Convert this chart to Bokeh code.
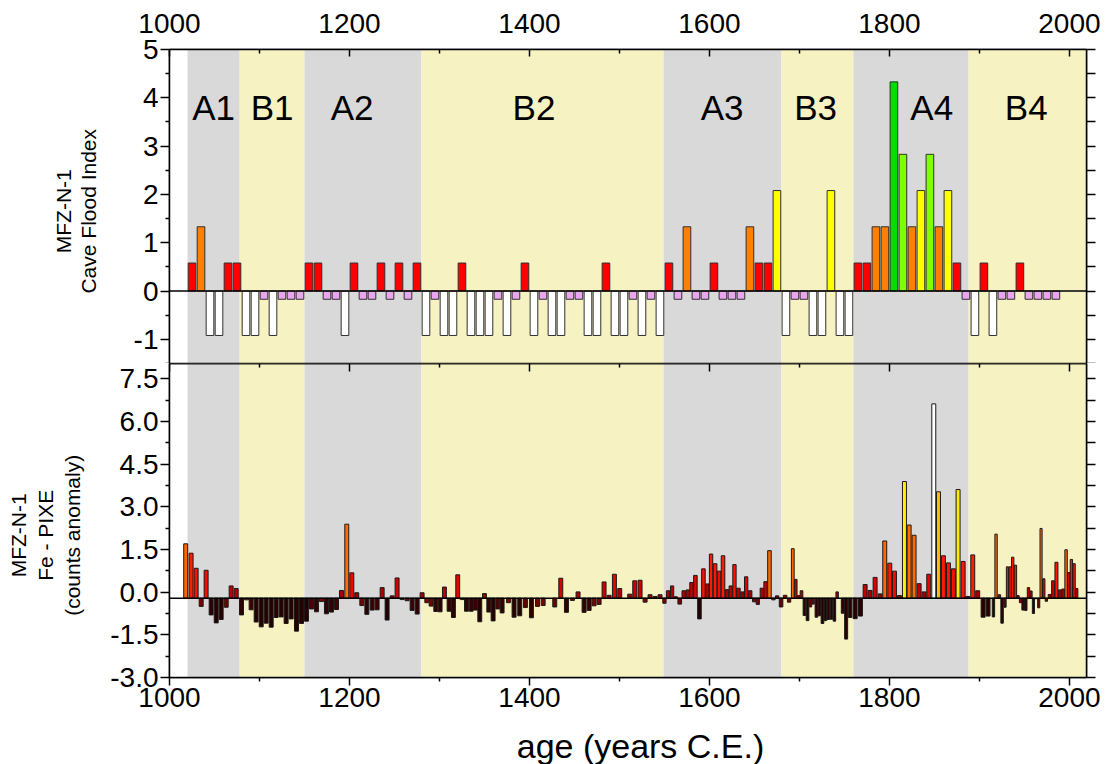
import numpy as np
from bokeh.plotting import figure
from bokeh.layouts import column, row
from bokeh.models import (Range1d, LinearAxis, FixedTicker, Span,
                          ColumnDataSource, PrintfTickFormatter)
from bokeh.core.properties import value
from bokeh.embed import file_html
from bokeh.resources import INLINE

# ---------------------------------------------------------------- data
phase_names = ["A1", "B1", "A2", "B2", "A3", "B3", "A4", "B4"]
phase_start = [1020, 1078, 1150, 1280, 1549, 1680, 1760, 1888]
phase_end = [1078, 1150, 1280, 1549, 1680, 1760, 1888, 2019]
phase_label_x = [1049, 1114, 1203, 1405, 1614, 1718, 1847, 1952]

x_major_ticks = [1000, 1200, 1400, 1600, 1800, 2000]
x_minor_ticks = [1100, 1300, 1500, 1700, 1900]
flood_ticks = [-1, 0, 1, 2, 3, 4, 5]
flood_minor = [-1.5, -0.5, 0.5, 1.5, 2.5, 3.5, 4.5]
fe_ticks = [-3.0, -1.5, 0.0, 1.5, 3.0, 4.5, 6.0, 7.5]
fe_minor = [-2.25, -0.75, 0.75, 2.25, 3.75, 5.25, 6.75]

# Cave Flood Index, decadal bins (centre years 1025 ... 1985)
flood_years = list(range(1025, 1986, 10))
flood_index = [
    0.58, 1.33, -0.92, -0.92, 0.58, 0.58, -0.92, -0.92, -0.17, -0.92,
    -0.17, -0.17, -0.17, 0.58, 0.58, -0.17, -0.17, -0.92, 0.58, -0.17,
    -0.17, 0.58, -0.17, 0.58, -0.17, 0.58, -0.92, -0.17, -0.92, -0.92,
    0.58, -0.92, -0.92, -0.92, -0.17, -0.92, -0.17, 0.58, -0.92, -0.17,
    -0.92, -0.92, -0.17, -0.17, -0.92, -0.92, 0.58, -0.92, -0.92, -0.17,
    -0.92, -0.17, -0.92, 0.58, -0.17, 1.33, -0.17, -0.17, 0.58, -0.17,
    -0.17, -0.17, 1.33, 0.58, 0.58, 2.08, -0.92, -0.17, -0.17, -0.92,
    -0.92, 2.08, -0.92, -0.92, 0.58, 0.58, 1.33, 1.33, 4.33, 2.83,
    1.33, 2.08, 2.83, 1.33, 2.08, 0.58, -0.17, -0.92, 0.58, -0.92,
    -0.17, -0.17, 0.58, -0.17, -0.17, -0.17, -0.17,
]

# Fe - PIXE counts anomaly
fe_year = [
    1018, 1024, 1029.6, 1035.2, 1040.7, 1046.3, 1051.9, 1057.4, 1063, 1068.5,
    1074.1, 1080, 1085.6, 1090.7, 1096.3, 1101.9, 1107.4, 1113, 1118.5, 1124.1,
    1129.6, 1135.2, 1141.1, 1146.7, 1152.2, 1157.8, 1163.3, 1168.9, 1174.4, 1180,
    1185.6, 1191.1, 1197, 1202.6, 1208.1, 1213.7,
    1219.3, 1225.2, 1230.7, 1236.3, 1241.8, 1247.4, 1252.9, 1258.5, 1264, 1269.6,
    1275.2, 1280.7, 1285.9, 1290.7, 1295.9, 1300.7, 1305.5, 1310.7, 1315.5, 1320.3,
    1325.2, 1330, 1335.2, 1340, 1344.8, 1350, 1354.8, 1359.6, 1364.8, 1369.6,
    1376.6, 1382.9, 1389.2, 1395.5, 1402.2, 1408.9, 1415.2,
    1428.1, 1434.8, 1441.1, 1447.7, 1454, 1460.7, 1466.3, 1471.8, 1477.4, 1482.9,
    1488.5, 1494.4, 1500.3, 1511.4, 1517, 1522.9, 1528.5, 1534, 1539.6, 1545.1,
    1550, 1554, 1558.5, 1562.5, 1567, 1571.5, 1575.9, 1580, 1584.4, 1588.9,
    1593.3, 1597.7, 1601.8, 1606.3, 1610.7, 1615.1, 1619.6,
    1623.7, 1627.8, 1632.2, 1636.7, 1640.8, 1645.2, 1649.7, 1653.7, 1658.2, 1662.3,
    1666.7, 1671.1, 1675.2, 1679.6, 1684.1, 1688.5, 1692.6, 1696, 1699, 1702.3,
    1705.6, 1709, 1712.3, 1715.2, 1718.9, 1722.2, 1725.6, 1728.9, 1732.2, 1735.6,
    1738.9, 1741.9, 1748.2, 1751.9, 1756.3, 1761.9, 1767.8, 1773, 1778.5, 1784.1,
    1789.7, 1794.8, 1800.4, 1805.6, 1811.1, 1816.7, 1821.9,
    1827.4, 1833, 1838.5, 1843.7, 1849.3, 1854.5, 1860, 1865.6, 1871.1, 1876.3,
    1881.9, 1887, 1892.6, 1898.1, 1904.1, 1909.6, 1915.6, 1918.5, 1922.2, 1925.2,
    1928.5, 1931.1, 1934.1, 1937, 1940, 1943, 1945.6, 1948.5, 1951.5, 1954.5,
    1957.4, 1960, 1963, 1965.9, 1968.5, 1971.5, 1974.4, 1978.1, 1981.9, 1985.6,
    1989.3, 1993, 1996.3, 1999.3, 2002.2, 2005.2, 2008.1,
]
fe_anomaly = [
    1.70, 1.37, 0.84, -0.50, 0.77, -0.80, -1.08, -0.96, -0.53, 0.22,
    0.13, -0.80, -0.27, -0.62, -1.05, -1.22, -1.09, -1.23, -0.89, -0.87,
    -1.10, -0.94, -1.37, -1.10, -1.02, -0.59, -0.69, -0.33, -0.76, -0.70,
    -0.61, 0.06, 2.39, 0.68, -0.02, -0.47,
    -0.78, -0.63, -0.62, 0.16, -0.98, -0.13, 0.50, -0.26, -0.30, -0.64,
    -0.77, -0.02, -0.37, -0.49, -0.68, -0.69, 0.18, -0.67, -0.89, 0.61,
    -0.26, -0.67, -0.67, -0.63, -1.04, -0.05, -0.70, -1.01, -0.59, -0.73,
    -0.37, -0.88, -0.83, -0.54, -0.90, -0.50, -0.47,
    -0.52, 0.49, -0.71, -0.29, 0.01, -0.71, -0.64, -0.48, -0.43, 0.36,
    -0.11, 0.63, 0.13, -0.07, 0.40, 0.42, -0.35, -0.09, -0.15, -0.09,
    -0.39, 0.05, 0.22, -0.16, -0.42, 0.05, 0.08, 0.34, 0.59, -0.94,
    0.82, 0.29, 1.34, 1.00, 0.74, 1.28, 0.09,
    0.22, 0.97, 0.14, 0.01, 0.54, 0.05, -0.34, -0.43, 0.14, 0.37,
    1.46, -0.27, -0.13, -0.52, -0.11, -0.35, 1.53, 0.45, -0.12, 0.05,
    -0.82, -1.00, -0.52, -0.42, -0.88, -0.83, -1.10, -1.00, -0.96, -0.95,
    -1.02, 0.01, -0.74, -1.65, -0.89, -0.93, -0.84, 0.27, 0.06, 0.52,
    -0.06, 1.80, 1.02, 0.74, -0.12, 3.89, 2.36,
    2.00, 0.30, 0.01, 0.63, 6.62, 3.53, 1.28, 1.03, 0.82, 3.61,
    1.08, -0.15, 1.31, 0.05, -0.88, -0.84, -0.87, 2.04, -0.09, -1.09,
    -0.53, 0.89, 0.89, 1.23, 0.95, -0.12, -0.37, -0.63, -0.64, 0.16,
    0.04, -0.75, -0.23, -0.55, 2.24, 0.47, -0.32, -0.08, 0.40, 1.05,
    0.08, 0.11, 1.49, 0.69, 1.15, 1.00, 0.13,
]
fe_reference = -0.21   # level the anomaly bars hang from

# ---------------------------------------------------------------- styling
FONT = "Liberation Sans"
TICK_SIZE = "28px"
GREY = "#d9d9d9"
YELLOW = "#f6f2c2"
PAGE_W, PAGE_H = 1107, 764
FRAME_X = 169          # left edge of both plot frames
TITLE_W = 102          # width of the strip carrying the rotated axis titles
MAIN_W = PAGE_W - TITLE_W
BORDER_L = FRAME_X - TITLE_W
BORDER_R = 21
TOP_H, BOT_H = 363, 360
XLAB_H = PAGE_H - TOP_H - BOT_H
X_RANGE = (1000, 2019)
FLOOD_RANGE = (-1.5, 5)
FE_RANGE = (-3, 8.04)


def flood_colour(v):
    if v < -0.5:
        return "#ffffff"
    if v < 0:
        return "#e9a6ef"
    if v < 1:
        return "#ff0000"
    if v < 1.7:
        return "#ff8000"
    if v < 2.5:
        return "#ffff00"
    if v < 3.5:
        return "#80ff00"
    return "#00dd00"


# hot-like ramp for the Fe anomalies
_cv = [-1.0, -0.65, -0.5, -0.2, 0.0, 0.5, 0.9, 1.40, 1.42, 2.5, 3.5, 3.58, 4.0, 5.0, 6.5]
_cr = [38, 52, 120, 145, 160, 215, 255, 255, 255, 255, 255, 255, 255, 255, 255]
_cg = [0, 0, 0, 0, 0, 0, 20, 30, 100, 110, 165, 235, 245, 250, 255]
_cb = [0, 0, 0, 0, 0, 0, 0, 0, 0, 0, 0, 0, 0, 120, 255]


def fe_colour(v):
    r = int(np.interp(v, _cv, _cr))
    g = int(np.interp(v, _cv, _cg))
    b = int(np.interp(v, _cv, _cb))
    return "#%02x%02x%02x" % (r, g, b)


def style_axis(ax, tick_in=0, tick_out=0, minor_in=0, minor_out=0):
    ax.axis_line_width = 1.5
    ax.major_tick_line_width = 1.5
    ax.minor_tick_line_width = 1.5
    ax.major_tick_in = tick_in
    ax.major_tick_out = tick_out
    ax.minor_tick_in = minor_in
    ax.minor_tick_out = minor_out
    ax.major_label_text_font = FONT
    ax.major_label_text_font_size = TICK_SIZE
    ax.major_label_text_color = "black"


def tick_only_axis(positions, tick_in, tick_out, **kw):
    # an unlabelled axis: every tick is drawn as a minor tick
    ax = LinearAxis(ticker=FixedTicker(ticks=[], minor_ticks=positions), **kw)
    style_axis(ax, minor_in=tick_in, minor_out=tick_out)
    return ax


def add_background(p, lo, hi):
    # white plot area first, then the alternating climate phases on top
    p.quad(left=X_RANGE[0], right=X_RANGE[1], bottom=lo, top=hi,
           fill_color="white", line_color=None)
    src = ColumnDataSource(dict(
        left=phase_start, right=phase_end,
        bottom=[lo] * len(phase_start), top=[hi] * len(phase_start),
        color=[GREY if n.startswith("A") else YELLOW for n in phase_names],
    ))
    p.quad(left="left", right="right", bottom="bottom", top="top",
           fill_color="color", line_color=None, source=src)


def text_strip(width, height, lines, xs, y_from_top, angle, size):
    s = figure(width=width, height=height, x_range=Range1d(0, width),
               y_range=Range1d(0, height), output_backend="svg",
               toolbar_location=None, x_axis_location=None,
               y_axis_location=None, min_border=0, outline_line_color=None)
    s.grid.visible = False
    src = ColumnDataSource(dict(x=xs, y=[height - y_from_top] * len(xs), text=lines))
    s.text(x="x", y="y", text="text", source=src, angle=angle,
           text_align="center", text_baseline="middle",
           text_font=value(FONT), text_font_size=size, text_color="black")
    return s


def panel(height, y_range, border_top, border_bottom):
    p = figure(width=MAIN_W, height=height, x_range=Range1d(*X_RANGE),
               y_range=Range1d(*y_range), output_backend="svg",
               toolbar_location=None, x_axis_location=None,
               y_axis_location=None, min_border_left=BORDER_L,
               min_border_right=BORDER_R, min_border_top=border_top,
               min_border_bottom=border_bottom,
               outline_line_color="black", outline_line_width=1.5)
    p.grid.visible = False
    return p


# ---------------------------------------------------------------- top panel
p1 = panel(TOP_H, FLOOD_RANGE, 49, 0)
add_background(p1, FLOOD_RANGE[0] - 1, FLOOD_RANGE[1] + 1)

src1 = ColumnDataSource(dict(x=flood_years, top=flood_index,
                             color=[flood_colour(v) for v in flood_index]))
p1.vbar(x="x", top="top", bottom=0, width=8.5, fill_color="color",
        line_color="#303030", line_width=1, source=src1)
p1.add_layout(Span(location=0, dimension="width", line_color="black",
                   line_width=1.5))

lab_src = ColumnDataSource(dict(x=phase_label_x, y=[3.8] * len(phase_names),
                                text=phase_names))
p1.text(x="x", y="y", text="text", source=lab_src, text_font=value(FONT),
        text_font_size="35px", text_align="center",
        text_baseline="alphabetic", text_color="black")

top_ax = LinearAxis(ticker=FixedTicker(ticks=x_major_ticks, minor_ticks=x_minor_ticks))
style_axis(top_ax, tick_in=7, minor_in=4)
top_ax.major_label_standoff = 17
p1.add_layout(top_ax, "above")

l1 = LinearAxis(ticker=FixedTicker(ticks=flood_ticks, minor_ticks=flood_minor),
                formatter=PrintfTickFormatter(format="%d"))
style_axis(l1, tick_out=9, minor_out=4)
l1.major_label_standoff = 2
p1.add_layout(l1, "left")

p1.add_layout(tick_only_axis(sorted(flood_ticks + flood_minor), 0, 9), "right")
# plain line along the lower edge of the top panel
p1.add_layout(tick_only_axis([], 0, 0, fixed_location=FLOOD_RANGE[0]), "below")

t1 = text_strip(TITLE_W, TOP_H, ["MFZ-N-1", "Cave Flood Index"], [63, 88], 187,
                np.pi / 2, "21px")

# ---------------------------------------------------------------- bottom panel
p2 = panel(BOT_H, FE_RANGE, 0, BOT_H - 314)
p2.x_range = p1.x_range
add_background(p2, FE_RANGE[0] - 1, FE_RANGE[1] + 1)

fy = np.array(fe_year, dtype=float)
gaps = np.diff(fy)
left_gap = np.concatenate([[gaps[0]], gaps])
right_gap = np.concatenate([gaps, [gaps[-1]]])
fe_width = np.minimum(4.4, 0.9 * np.minimum(left_gap, right_gap))

src2 = ColumnDataSource(dict(x=fe_year, top=fe_anomaly, w=fe_width,
                             color=[fe_colour(v) for v in fe_anomaly]))
p2.vbar(x="x", top="top", bottom=fe_reference, width="w", fill_color="color",
        line_color="#1a1a1a", line_width=1, source=src2)
p2.add_layout(Span(location=fe_reference, dimension="width",
                   line_color="black", line_width=1.5))

# inward ticks along the shared edge between the panels
p2.add_layout(tick_only_axis(x_major_ticks, 8, 0, fixed_location=FE_RANGE[1]), "above")
p2.add_layout(tick_only_axis(x_minor_ticks, 4, 0, fixed_location=FE_RANGE[1]), "above")

b2 = LinearAxis(ticker=FixedTicker(ticks=x_major_ticks, minor_ticks=x_minor_ticks))
style_axis(b2, tick_out=8, minor_out=4)
b2.major_label_standoff = 2
p2.add_layout(b2, "below")

l2 = LinearAxis(ticker=FixedTicker(ticks=fe_ticks, minor_ticks=fe_minor),
                formatter=PrintfTickFormatter(format="%.1f"))
style_axis(l2, tick_out=9, minor_out=4)
l2.major_label_standoff = 2
p2.add_layout(l2, "left")

p2.add_layout(tick_only_axis(sorted(fe_ticks + fe_minor), 0, 9), "right")

t2 = text_strip(TITLE_W, BOT_H, ["MFZ-N-1", "Fe - PIXE", "(counts anomaly)"],
                [18, 45, 72], 560 - TOP_H, np.pi / 2, "21px")

# x-axis title underneath both panels
xt = text_strip(PAGE_W, XLAB_H, ["age (years C.E.)"], [640], 745 - TOP_H - BOT_H,
                0, "34px")

layout = column(row(t1, p1, spacing=0), row(t2, p2, spacing=0), xt, spacing=0)
open("out.html", "w").write(file_html(layout, INLINE))
